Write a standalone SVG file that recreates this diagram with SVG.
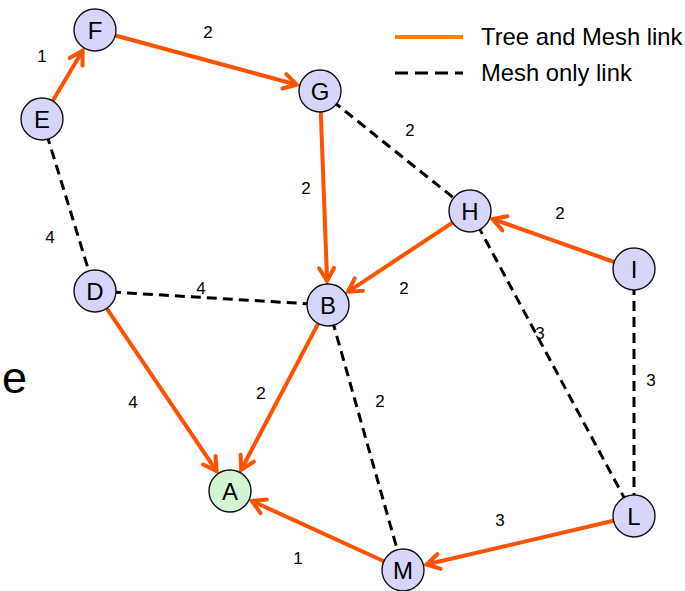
<svg xmlns="http://www.w3.org/2000/svg" width="685" height="591" viewBox="0 0 685 591">
<defs>
<style>
.node circle{fill:#d6d6fa;stroke:#111;stroke-width:1.4}
.node.root circle{fill:#d4f5d4}
.node text{font-family:"Liberation Sans",Arial,sans-serif;font-size:24px;text-anchor:middle;fill:#000}
.tree{stroke:#ff5200;stroke-width:4;fill:none;marker-end:url(#arr)}
.mesh{stroke:#000;stroke-width:3;stroke-dasharray:10 6;fill:none}
.lbl{font-family:"Liberation Sans",Arial,sans-serif;font-size:17px;text-anchor:middle;fill:#000}
.leg{font-family:"Liberation Sans",Arial,sans-serif;font-size:23.8px;fill:#000}
</style>
<marker id="arr" markerUnits="userSpaceOnUse" viewBox="-16 -10 20 20" refX="0" refY="0" markerWidth="20" markerHeight="20" orient="auto" overflow="visible">
<path d="M-13,-7.5 L0,0 L-13,7.5" fill="none" stroke="#ff5200" stroke-width="4" stroke-linecap="round" stroke-linejoin="miter"/>
</marker>
</defs>
<rect width="685" height="591" fill="#fff"/>
<g id="legend">
<line x1="395" y1="37" x2="463" y2="37" stroke="#ff7f0a" stroke-width="4"/>
<text class="leg" x="481" y="45">Tree and Mesh link</text>
<line x1="395" y1="73" x2="463" y2="73" stroke="#000" stroke-width="3" stroke-dasharray="13 7"/>
<text class="leg" x="481" y="81">Mesh only link</text>
</g>
<text x="2" y="393" font-family="Liberation Sans,Arial,sans-serif" font-size="45" fill="#000">e</text>
<g id="connectors">
<line class="mesh" x1="42" y1="119" x2="95" y2="291"/>
<line class="mesh" x1="95" y1="291" x2="328" y2="305"/>
<line class="mesh" x1="320" y1="91" x2="470" y2="211"/>
<line class="mesh" x1="470" y1="211" x2="634" y2="516"/>
<line class="mesh" x1="328" y1="305" x2="403" y2="570"/>
<line class="mesh" x1="634" y1="269" x2="634" y2="516"/>
<line class="tree" x1="52.7" y1="101" x2="82.7" y2="50.6"/>
<line class="tree" x1="115.3" y1="35.5" x2="296.9" y2="84.7"/>
<line class="tree" x1="320.8" y1="112" x2="327.1" y2="281"/>
<line class="tree" x1="452.5" y1="222.6" x2="348" y2="291.8"/>
<line class="tree" x1="614.2" y1="262" x2="492.6" y2="219"/>
<line class="tree" x1="318.2" y1="323.6" x2="241.2" y2="469.7"/>
<line class="tree" x1="106.7" y1="308.4" x2="216.6" y2="471.1"/>
<line class="tree" x1="383.9" y1="561.3" x2="251.8" y2="500.9"/>
<line class="tree" x1="613.5" y1="520.8" x2="426.4" y2="564.5"/>
</g>
<g id="labels">
<text class="lbl" x="42" y="62">1</text>
<text class="lbl" x="208" y="38">2</text>
<text class="lbl" x="410" y="136">2</text>
<text class="lbl" x="306" y="194">2</text>
<text class="lbl" x="560" y="219">2</text>
<text class="lbl" x="50" y="243">4</text>
<text class="lbl" x="201" y="294">4</text>
<text class="lbl" x="404" y="294">2</text>
<text class="lbl" x="540" y="339">3</text>
<text class="lbl" x="651" y="386">3</text>
<text class="lbl" x="133" y="408">4</text>
<text class="lbl" x="261" y="399">2</text>
<text class="lbl" x="380" y="407">2</text>
<text class="lbl" x="500" y="526">3</text>
<text class="lbl" x="298" y="564">1</text>
</g>
<g id="node-F" class="node"><circle cx="95" cy="30" r="21"/><text x="95" y="39">F</text></g>
<g id="node-E" class="node"><circle cx="42" cy="119" r="21"/><text x="42" y="128">E</text></g>
<g id="node-G" class="node"><circle cx="320" cy="91" r="21"/><text x="320" y="100">G</text></g>
<g id="node-H" class="node"><circle cx="470" cy="211" r="21"/><text x="470" y="220">H</text></g>
<g id="node-I" class="node"><circle cx="634" cy="269" r="21"/><text x="634" y="278">I</text></g>
<g id="node-D" class="node"><circle cx="95" cy="291" r="21"/><text x="95" y="300">D</text></g>
<g id="node-B" class="node"><circle cx="328" cy="305" r="21"/><text x="328" y="314">B</text></g>
<g id="node-A" class="node root"><circle cx="230" cy="491" r="21"/><text x="230" y="500">A</text></g>
<g id="node-M" class="node"><circle cx="403" cy="570" r="21"/><text x="403" y="579">M</text></g>
<g id="node-L" class="node"><circle cx="634" cy="516" r="21"/><text x="634" y="525">L</text></g>
</svg>
